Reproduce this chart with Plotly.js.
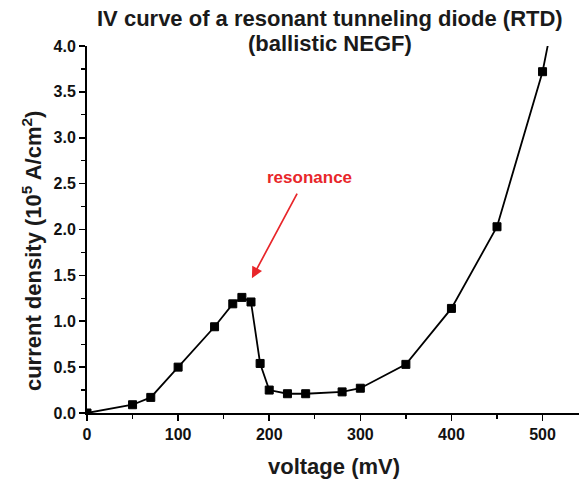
<!DOCTYPE html>
<html><head><meta charset="utf-8">
<script src="https://cdn.plot.ly/plotly-3.0.1.min.js"></script>
<style>html,body{margin:0;padding:0;background:#fff}#plot{width:579px;height:481px}</style>
</head><body><div id="plot"></div>
<script>
const voltage = [0, 50, 70, 100, 140, 160, 170, 180, 190, 200, 220, 240, 280, 300, 350, 400, 450, 500, 510];
const currentDensity = [0, 0.09, 0.17, 0.50, 0.94, 1.19, 1.26, 1.21, 0.54, 0.25, 0.21, 0.21, 0.23, 0.27, 0.53, 1.14, 2.03, 3.72, 4.22];
const markerShown = [1,1,1,1,1,1,1,1,1,1,1,1,1,1,1,1,1,1,0];
const xTicks = [0, 100, 200, 300, 400, 500];
const yTicks = [0, 0.5, 1.0, 1.5, 2.0, 2.5, 3.0, 3.5, 4.0];
const titleLines = ['IV curve of a resonant tunneling diode (RTD)', '(ballistic NEGF)'];

const font = 'Arial, "Liberation Sans", sans-serif';
const trace = {
  x: voltage, y: currentDensity, mode: 'lines+markers', type: 'scatter',
  line: {color: '#000', width: 1.8},
  marker: {symbol: 'square', color: '#000', opacity: 1, size: markerShown.map(m => m ? 8 : 0),
           line: {color: '#000', width: markerShown.map(m => m ? 1 : 0)}},
  cliponaxis: true, hoverinfo: 'none'
};
const layout = {
  width: 579, height: 481,
  margin: {l: 87, r: 0, t: 46, b: 68},
  paper_bgcolor: '#fff', plot_bgcolor: '#fff',
  showlegend: false,
  font: {family: font, color: '#000'},
  xaxis: {range: [0, 540], tickvals: xTicks, ticktext: xTicks.map(v => '<b>' + v + '</b>'),
    ticks: 'outside', ticklen: 6, tickwidth: 1.6, tickcolor: '#000',
    minor: {dtick: 50, ticks: 'outside', ticklen: 4, tickwidth: 1.3, tickcolor: '#000'},
    showline: true, linecolor: '#000', linewidth: 2, showgrid: false, zeroline: false,
    tickfont: {size: 16, family: font, color: '#111'}},
  yaxis: {range: [0, 4.0], tickvals: yTicks, ticktext: yTicks.map(v => '<b>' + v.toFixed(1) + '</b>'),
    ticks: 'outside', ticklen: 6, tickwidth: 1.6, tickcolor: '#000',
    minor: {dtick: 0.25, ticks: 'outside', ticklen: 4, tickwidth: 1.3, tickcolor: '#000'},
    showline: true, linecolor: '#000', linewidth: 2, showgrid: false, zeroline: false,
    tickfont: {size: 16, family: font, color: '#111'}},
  annotations: [
    {xref: 'paper', yref: 'paper', x: 0.494, y: 1.0736, xanchor: 'center', yanchor: 'middle',
     text: '<b>' + titleLines[0] + '</b>', showarrow: false, font: {size: 22, family: font, color: '#1a1a1a'}},
    {xref: 'paper', yref: 'paper', x: 0.494, y: 1.008, xanchor: 'center', yanchor: 'middle',
     text: '<b>' + titleLines[1] + '</b>', showarrow: false, font: {size: 22, family: font, color: '#1a1a1a'}},
    {xref: 'paper', yref: 'paper', x: 0.502, y: -0.147, xanchor: 'center', yanchor: 'middle',
     text: '<b>voltage (mV)</b>', showarrow: false, font: {size: 22, family: font, color: '#1a1a1a'}},
    {xref: 'paper', yref: 'paper', x: -0.112, y: 0.441, xanchor: 'center', yanchor: 'middle', textangle: -90,
     text: '<b>current density (10<sup>5</sup> A/cm<sup>2</sup>)</b>', showarrow: false,
     font: {size: 22, family: font, color: '#1a1a1a'}},
    {x: 181, y: 1.47, xref: 'x', yref: 'y', text: '', showarrow: true,
     arrowhead: 2, arrowsize: 1.3, arrowwidth: 1.7, arrowcolor: '#e8262a', ax: 46, ay: -86},
    {x: 244, y: 2.57, xref: 'x', yref: 'y', text: '<b>resonance</b>', showarrow: false,
     font: {size: 17, color: '#e8262a', family: font}, xanchor: 'center', yanchor: 'middle'}
  ]
};
Plotly.newPlot('plot', [trace], layout, {displayModeBar: false, staticPlot: true});
</script></body></html>
